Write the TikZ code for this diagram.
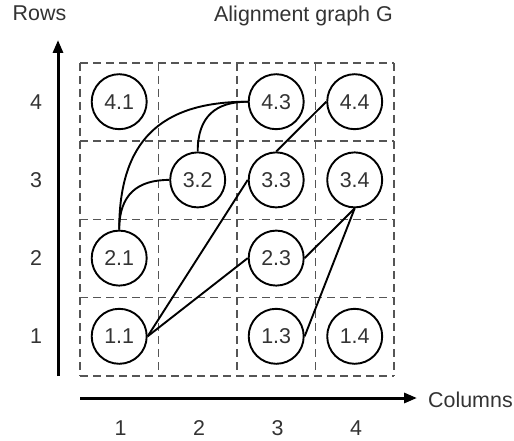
\documentclass[tikz,border=0pt]{standalone}
\usepackage{fontspec}
\setmainfont{Liberation Sans}
\usetikzlibrary{arrows.meta}
\definecolor{txt}{HTML}{333333}
\definecolor{dashgray}{HTML}{555555}
\begin{document}
\begin{tikzpicture}[x=1bp,y=-1bp,
  lbl/.style={text=txt, font=\fontsize{21.5}{26}\selectfont, inner sep=0pt},
  vtx/.style={circle, draw=black, line width=1.9bp, minimum size=55bp, inner sep=0pt, text=txt, font=\fontsize{21.5}{26}\selectfont},
  cellline/.style={draw=dashgray, line width=1.4bp, dash pattern=on 8bp off 5bp},
  edge/.style={draw=black, line width=1.9bp},
  axis/.style={draw=black, line width=3bp, -{Triangle[length=13bp,width=10bp]}}]
\useasboundingbox (0,0) rectangle (514,441);
% dashed grid
\foreach \i in {0,...,4} {
  \draw[cellline] (80+78.5*\i,63) -- (80+78.5*\i,375.8);
  \draw[cellline] (80,63+78.2*\i) -- (394,63+78.2*\i);
}
% vertices
\node[vtx] (n41) at (119.2,101.7) {4.1};
\node[vtx] (n43) at (276.2,101.7) {4.3};
\node[vtx] (n44) at (354.7,101.7) {4.4};
\node[vtx] (n32) at (197.7,179.9) {3.2};
\node[vtx] (n33) at (276.2,179.9) {3.3};
\node[vtx] (n34) at (354.7,179.9) {3.4};
\node[vtx] (n21) at (119.2,258.1) {2.1};
\node[vtx] (n23) at (276.2,258.1) {2.3};
\node[vtx] (n11) at (119.2,336.3) {1.1};
\node[vtx] (n13) at (276.2,336.3) {1.3};
\node[vtx] (n14) at (354.7,336.3) {1.4};
% edges
\draw[edge] (n21.north) .. controls +(0,-88) and +(-88,0) .. (n43.west);
\draw[edge] (n21.north) .. controls +(0,-35) and +(-32,0) .. (n32.west);
\draw[edge] (n32.north) .. controls +(0,-35) and +(-32,0) .. (n43.west);
\draw[edge] (n11.east) -- (n33.west);
\draw[edge] (n11.east) -- (n23.west);
\draw[edge] (n33.north) -- (n44.west);
\draw[edge] (n23.east) -- (n34.south);
\draw[edge] (n13.east) -- (n34.south);
% axes
\coordinate (ybot) at (58,376);
\coordinate (ytop) at (58,40);
\coordinate (xleft) at (80,398);
\coordinate (xright) at (417,398);
\draw[axis] (ybot) -- (ytop);
\draw[axis] (xleft) -- (xright);
% labels
\node[lbl, anchor=base] (rows) at (39.5,20.7) {Rows};
\node[lbl, anchor=base] (title) at (303.5,21.5) {Alignment graph G};
\node[lbl, anchor=base west] (cols) at (428,407) {Columns};
\node[lbl] (r4) at (36,101.7) {4};
\node[lbl] (r3) at (36,179.9) {3};
\node[lbl] (r2) at (36,258.1) {2};
\node[lbl] (r1) at (36,336.3) {1};
\node[lbl] (c1) at (120.5,428.5) {1};
\node[lbl] (c2) at (199,428.5) {2};
\node[lbl] (c3) at (277.5,428.5) {3};
\node[lbl] (c4) at (356,428.5) {4};
\end{tikzpicture}
\end{document}
